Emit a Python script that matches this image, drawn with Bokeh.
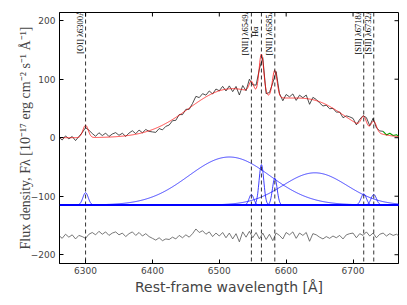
import numpy as np
from math import pi
from bokeh.plotting import figure
from bokeh.models import FixedTicker, Range1d, Span, ColumnDataSource
from bokeh.core.properties import value
from bokeh.embed import file_html
from bokeh.resources import INLINE

# ---- data ----
line_names = ["[OI] λ6300Å", "[NII] λ6549Å", "Hα", "[NII] λ6585Å", "[SII] λ6718Å", "[SII] λ6732Å"]
line_centers = [6300, 6548, 6563, 6583, 6716, 6731]
narrow_amps = [21, 18, 69, 46, 19, 18]
narrow_sigmas = [4.0, 3.5, 3.5, 3.5, 4.0, 4.0]
broad_centers = [6515, 6643]
broad_amps = [82, 55]
broad_sigmas = [61, 48]
component_offset = -115
residual_offset = -168

obs_wave_start, obs_wave_step = 6260, 5
residuals = [1, -4, 3, -2, 2, -5, 1, -1,
             -4, 3, 6, 2, 8, 3, 7, 1, 5, 7,
             2, 5, -1, 4, 7, 1, 6, 0, 4, -1,
             -4, -7, -3, -8, -5, -6, -2, -5, 1, -3,
             2, -2, 4, 12, 6, 9, 3, 7, -1, 5,
             0, 6, -3, 5, -5, 4, -10, 7, -2, 8,
             -3, 6, -5, 5, -6, 3, -8, 5, 1, -5,
             6, 2, 7, -4, 5, 1, 6, -9, 4, 2,
             -2, -5, -1, -4, 0, -3, 1, -5, 2, 4,
             5, -3, 4, 1, 7, 0, 5, -3, 3, 5,
             0, 4, 1, 3, -1]
green_start = 6745

x_ticks = [6300, 6400, 6500, 6600, 6700]
y_ticks = [-200, -100, 0, 100, 200]
y_tick_labels = {-200: "−200", -100: "−100", 0: "0", 100: "100", 200: "200"}
x_lo, x_hi = 6261, 6768
y_lo, y_hi = -215, 214
label_y = 181

# ---- derived curves ----
def gauss(x, c, a, s):
    return a * np.exp(-(x - c) ** 2 / (2 * s ** 2))

comps = [(c, a, s) for c, a, s in zip(line_centers, narrow_amps, narrow_sigmas)]
comps += [(c, a, s) for c, a, s in zip(broad_centers, broad_amps, broad_sigmas)]

fine = np.linspace(6255, 6775, 1041)
model = sum(gauss(fine, c, a, s) for c, a, s in comps)

wave = obs_wave_start + obs_wave_step * np.arange(len(residuals))
res = np.array(residuals, dtype=float)
obs_model = sum(gauss(wave, c, a, s) for c, a, s in comps)
observed = obs_model + res

p = figure(width=407, height=305, output_backend="svg", toolbar_location=None,
           x_range=Range1d(x_lo, x_hi), y_range=Range1d(y_lo, y_hi),
           min_border_left=59, min_border_right=9, min_border_top=12, min_border_bottom=42)
p.grid.visible = False
p.outline_line_color = "black"
p.outline_line_width = 1
p.background_fill_color = "white"

# vertical dashed lines
for c in line_centers:
    p.add_layout(Span(location=c, dimension="height", line_color="black", line_alpha=0.8,
                      line_width=1, line_dash="4 3"))

# observed spectrum
mask_black = wave <= green_start
mask_green = wave >= green_start
p.line(wave[mask_black], observed[mask_black], line_color="#222222", line_width=0.8)
p.line(wave[mask_green], observed[mask_green], line_color="#00a000", line_width=1.1)
# model
p.line(fine, model, line_color="red", line_alpha=0.75, line_width=1)

# components
for c, a, s in comps:
    p.line(fine, gauss(fine, c, a, s) + component_offset, line_color="blue", line_alpha=0.75, line_width=1)
p.add_layout(Span(location=component_offset, dimension="width", line_color="blue", line_width=1.5))

# residuals
p.line(wave, res + residual_offset, line_color="#555555", line_width=0.8)

# line labels
src = ColumnDataSource(dict(x=line_centers, y=[label_y] * len(line_centers), t=line_names))
p.text(x="x", y="y", text="t", source=src, angle=pi / 2, text_align="center",
       text_baseline="bottom", x_offset=-1, text_font=value("Liberation Serif"),
       text_font_size="8.5px", text_color="black")

# inward ticks on the top and right edges
p.ray(x=x_ticks, y=[y_hi] * len(x_ticks), length=4, length_units="screen",
      angle=-pi / 2, line_color="black", line_width=1)
p.ray(x=[x_hi] * len(y_ticks), y=y_ticks, length=4, length_units="screen",
      angle=pi, line_color="black", line_width=1)

# axes styling
for ax in (p.xaxis[0], p.yaxis[0]):
    ax.major_tick_in = 4
    ax.major_tick_out = 0
    ax.minor_tick_line_color = None
    ax.major_label_text_font = "DejaVu Sans"
    ax.major_label_text_font_size = "9px"
    ax.axis_line_color = "black"

p.xaxis[0].ticker = FixedTicker(ticks=x_ticks)
p.xaxis[0].major_label_standoff = 3
p.xaxis[0].axis_label = "Rest-frame wavelength [Å]"
p.xaxis[0].axis_label_text_font = "DejaVu Sans"
p.xaxis[0].axis_label_text_font_style = "normal"
p.xaxis[0].axis_label_text_font_size = "14px"
p.xaxis[0].axis_label_standoff = 2

p.yaxis[0].ticker = FixedTicker(ticks=y_ticks)
p.yaxis[0].major_label_overrides = y_tick_labels
p.yaxis[0].major_label_standoff = 4
p.yaxis[0].axis_label = "Flux density, Fλ [10⁻¹⁷ erg cm⁻² s⁻¹ Å⁻¹]"
p.yaxis[0].axis_label_text_font = "Liberation Serif"
p.yaxis[0].axis_label_text_font_style = "normal"
p.yaxis[0].axis_label_text_font_size = "14px"
p.yaxis[0].axis_label_standoff = -5

open("out.html", "w").write(file_html(p, INLINE))
